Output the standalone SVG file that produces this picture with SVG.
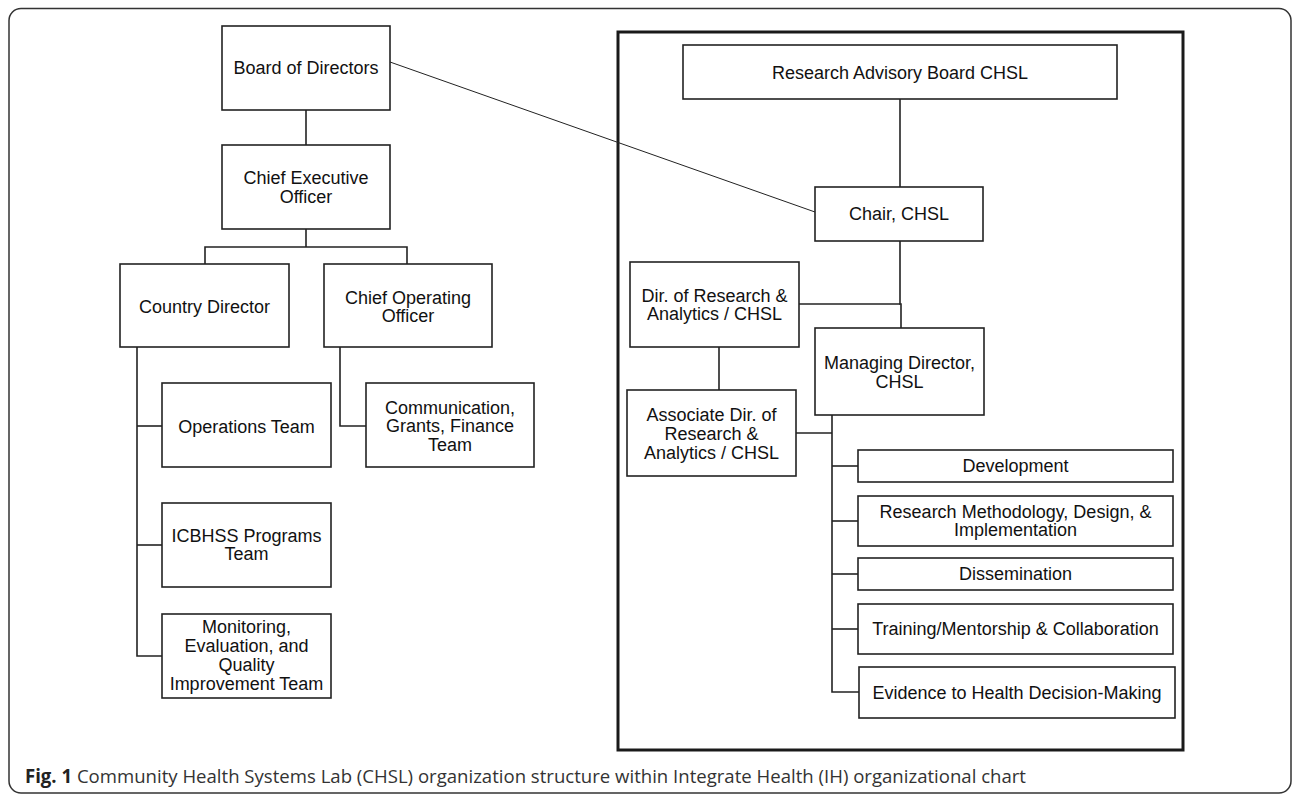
<svg xmlns="http://www.w3.org/2000/svg" width="1292" height="795" viewBox="0 0 1292 795">
<style>
.box{fill:#fff;stroke:#222;stroke-width:1.6}
.t{font-family:"Liberation Sans",Arial,sans-serif;font-size:18px;fill:#111;text-anchor:middle}
.c{fill:none;stroke:#222;stroke-width:1.6}
.thin{fill:none;stroke:#222;stroke-width:1}
.cap{font-family:"Open Sans","Lato",sans-serif;font-size:19px;fill:#333}
</style>
<rect x="0" y="0" width="1292" height="795" fill="#fff"/>
<rect x="9" y="8.5" width="1282" height="784.5" rx="12" fill="none" stroke="#333" stroke-width="1.5"/>
<rect id="chsl-panel" x="618" y="32" width="565" height="718" fill="none" stroke="#1a1a1a" stroke-width="3"/>

<g id="connectors">
<line class="c" x1="306" y1="110" x2="306" y2="145"/>
<polyline class="c" points="306,229 306,247"/>
<polyline class="c" points="205,264 205,247 407,247 407,264"/>
<polyline class="c" points="137,347 137,656 162,656"/>
<line class="c" x1="137" y1="426" x2="162" y2="426"/>
<line class="c" x1="137" y1="545" x2="162" y2="545"/>
<polyline class="c" points="340,347 340,426 366,426"/>
<line class="thin" x1="390" y1="62" x2="815" y2="212"/>
<line class="c" x1="900" y1="99" x2="900" y2="187"/>
<polyline class="c" points="900,241 900,304 901,304 901,328"/>
<line class="c" x1="799" y1="304" x2="900" y2="304"/>
<line class="c" x1="719" y1="347" x2="719" y2="390"/>
<line class="c" x1="796" y1="433" x2="832" y2="433"/>
<polyline class="c" points="832,415 832,692 859,692"/>
<line class="c" x1="832" y1="466" x2="858" y2="466"/>
<line class="c" x1="832" y1="521" x2="858" y2="521"/>
<line class="c" x1="832" y1="574" x2="858" y2="574"/>
<line class="c" x1="832" y1="629" x2="858" y2="629"/>
</g>

<g id="board"><rect class="box" x="222" y="26" width="168" height="84"/><text class="t" x="306" y="73.5">Board of Directors</text></g>
<g id="ceo"><rect class="box" x="222" y="145" width="168" height="84"/><text class="t" x="306" y="183.5">Chief Executive</text><text class="t" x="306" y="202.5">Officer</text></g>
<g id="country-director"><rect class="box" x="120" y="264" width="169" height="83"/><text class="t" x="204.5" y="312.5">Country Director</text></g>
<g id="coo"><rect class="box" x="324" y="264" width="168" height="83"/><text class="t" x="408" y="303.5">Chief Operating</text><text class="t" x="408" y="321.5">Officer</text></g>
<g id="operations"><rect class="box" x="162" y="383" width="169" height="84"/><text class="t" x="246.5" y="432.5">Operations Team</text></g>
<g id="communication"><rect class="box" x="366" y="383" width="168" height="84"/><text class="t" x="450" y="413.5">Communication,</text><text class="t" x="450" y="432">Grants, Finance</text><text class="t" x="450" y="450.5">Team</text></g>
<g id="icbhss"><rect class="box" x="162" y="503" width="169" height="84"/><text class="t" x="246.5" y="541.5">ICBHSS Programs</text><text class="t" x="246.5" y="560">Team</text></g>
<g id="monitoring"><rect class="box" x="162" y="614" width="169" height="84"/><text class="t" x="246.5" y="633">Monitoring,</text><text class="t" x="246.5" y="652">Evaluation, and</text><text class="t" x="246.5" y="671">Quality</text><text class="t" x="246.5" y="690">Improvement Team</text></g>

<g id="rab"><rect class="box" x="683" y="45" width="434" height="54"/><text class="t" x="900" y="78.5">Research Advisory Board CHSL</text></g>
<g id="chair"><rect class="box" x="815" y="187" width="168" height="54"/><text class="t" x="899" y="220">Chair, CHSL</text></g>
<g id="dir-research"><rect class="box" x="630" y="262" width="169" height="85"/><text class="t" x="714.5" y="301.5">Dir. of Research &amp;</text><text class="t" x="714.5" y="320">Analytics / CHSL</text></g>
<g id="managing-director"><rect class="box" x="815" y="328" width="169" height="87"/><text class="t" x="899.5" y="368.5">Managing Director,</text><text class="t" x="899.5" y="387.5">CHSL</text></g>
<g id="assoc-dir"><rect class="box" x="627" y="390" width="169" height="86"/><text class="t" x="711.5" y="420.5">Associate Dir. of</text><text class="t" x="711.5" y="439.5">Research &amp;</text><text class="t" x="711.5" y="458.5">Analytics / CHSL</text></g>
<g id="development"><rect class="box" x="858" y="450" width="315" height="32"/><text class="t" x="1015.5" y="471.5">Development</text></g>
<g id="methodology"><rect class="box" x="858" y="496" width="315" height="50"/><text class="t" x="1015.5" y="517.5">Research Methodology, Design, &amp;</text><text class="t" x="1015.5" y="535.5">Implementation</text></g>
<g id="dissemination"><rect class="box" x="858" y="558" width="315" height="32"/><text class="t" x="1015.5" y="580">Dissemination</text></g>
<g id="training"><rect class="box" x="858" y="604" width="315" height="50"/><text class="t" x="1015.5" y="634.5">Training/Mentorship &amp; Collaboration</text></g>
<g id="evidence"><rect class="box" x="859" y="667" width="316" height="51"/><text class="t" x="1017" y="698.5">Evidence to Health Decision-Making</text></g>

<text class="cap" x="25" y="783" textLength="1001" lengthAdjust="spacingAndGlyphs"><tspan font-weight="bold" fill="#222">Fig. 1</tspan> Community Health Systems Lab (CHSL) organization structure within Integrate Health (IH) organizational chart</text>
</svg>
